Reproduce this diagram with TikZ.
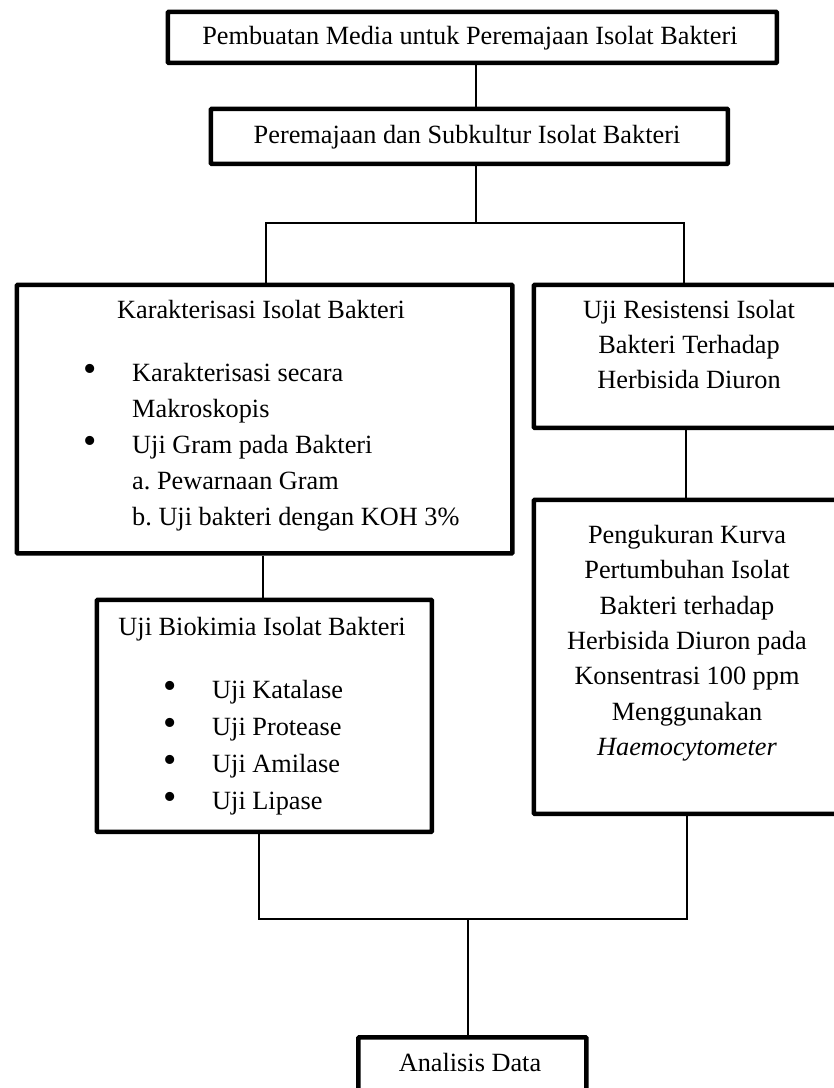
\documentclass[tikz,border=0pt]{standalone}
\usepackage{fontspec}
\setmainfont{Liberation Serif}
\frenchspacing
\newcommand{\fs}{\fontsize{26.3}{35.5}\selectfont}
\newcommand{\bfs}{\fontsize{38}{38}\selectfont}
\tikzset{
  box/.style={draw, line width=4.7pt, rounded corners=1pt, inner sep=0pt, anchor=north west},
  conn/.style={line width=1.8pt},
  txt/.style={inner sep=0pt, font=\fs, anchor=base},
  ltxt/.style={inner sep=0pt, font=\fs, anchor=base west},
  dot/.style={inner sep=0pt, font=\bfs, anchor=center},
}
\begin{document}
\begin{tikzpicture}[x=1pt,y=-1pt]
\useasboundingbox (0,0) rectangle (834,1088);
% boxes
\node[box, minimum width=609pt, minimum height=51pt] (b1) at (165.5,9.5) {};
\node[box, minimum width=517pt, minimum height=55pt] (b2) at (208.5,106.5) {};
\node[box, minimum width=495.5pt, minimum height=268.5pt] (b3) at (14.5,282.5) {};
\node[box, minimum width=316.5pt, minimum height=143pt] (b4) at (531.5,282.5) {};
\node[box, minimum width=316.5pt, minimum height=314pt] (b5) at (531.5,497.5) {};
\node[box, minimum width=335pt, minimum height=232pt] (b6) at (94.5,597.5) {};
\node[box, minimum width=228pt, minimum height=57pt] (b7) at (356,1035) {};
% texts
\node[txt] (t1) at (470,44) {Pembuatan Media untuk Peremajaan Isolat Bakteri};
\node[txt] (t2) at (467,143) {Peremajaan dan Subkultur Isolat Bakteri};
\node[txt] (t3) at (261,318) {Karakterisasi Isolat Bakteri};
\node[dot] (d31) at (90,373) {•};
\node[ltxt] (t31) at (132,381) {Karakterisasi secara};
\node[ltxt] (t32) at (132,417) {Makroskopis};
\node[dot] (d33) at (90,445) {•};
\node[ltxt] (t33) at (132,453) {Uji Gram pada Bakteri};
\node[ltxt] (t34) at (132,489) {a. Pewarnaan Gram};
\node[ltxt] (t35) at (132,525) {b. Uji bakteri dengan KOH 3\%};
\node[txt] (t41) at (689,318) {Uji Resistensi Isolat};
\node[txt] (t42) at (689,353) {Bakteri Terhadap};
\node[txt] (t43) at (689,388) {Herbisida Diuron};
\node[txt] (t51) at (687,543) {Pengukuran Kurva};
\node[txt] (t52) at (687,578) {Pertumbuhan Isolat};
\node[txt] (t53) at (687,614) {Bakteri terhadap};
\node[txt] (t54) at (687,649) {Herbisida Diuron pada};
\node[txt] (t55) at (687,684) {Konsentrasi 100 ppm};
\node[txt] (t56) at (687,720) {Menggunakan};
\node[txt] (t57) at (687,755) {\itshape Haemocytometer};
\node[txt] (t6) at (262,635) {Uji Biokimia Isolat Bakteri};
\node[dot] (d61) at (170,690) {•};
\node[ltxt] (t61) at (212,698) {Uji Katalase};
\node[dot] (d62) at (170,727) {•};
\node[ltxt] (t62) at (212,735) {Uji Protease};
\node[dot] (d63) at (170,764) {•};
\node[ltxt] (t63) at (212,772) {Uji Amilase};
\node[dot] (d64) at (170,801) {•};
\node[ltxt] (t64) at (212,809) {Uji Lipase};
\node[txt] (t7) at (470,1071) {Analisis Data};
% junctions
\coordinate (ja) at (476,223);
\coordinate (jl) at (266,223);
\coordinate (jr) at (684,223);
\coordinate (k45) at (686,460);
\coordinate (k36) at (263,575);
\coordinate (bl) at (259,919);
\coordinate (br) at (687,919);
\coordinate (bm) at (468,919);
% connectors
\draw[conn] (b1.south -| ja) -- (b2.north -| ja);
\draw[conn] (b2.south -| ja) -- (ja);
\draw[conn] (jl |- b3.north) -- (jl) -- (jr) -- (jr |- b4.north);
\draw[conn] (b4.south -| k45) -- (b5.north -| k45);
\draw[conn] (b3.south -| k36) -- (b6.north -| k36);
\draw[conn] (bl |- b6.south) -- (bl) -- (br) -- (br |- b5.south);
\draw[conn] (bm) -- (bm |- b7.north);
\end{tikzpicture}
\end{document}
